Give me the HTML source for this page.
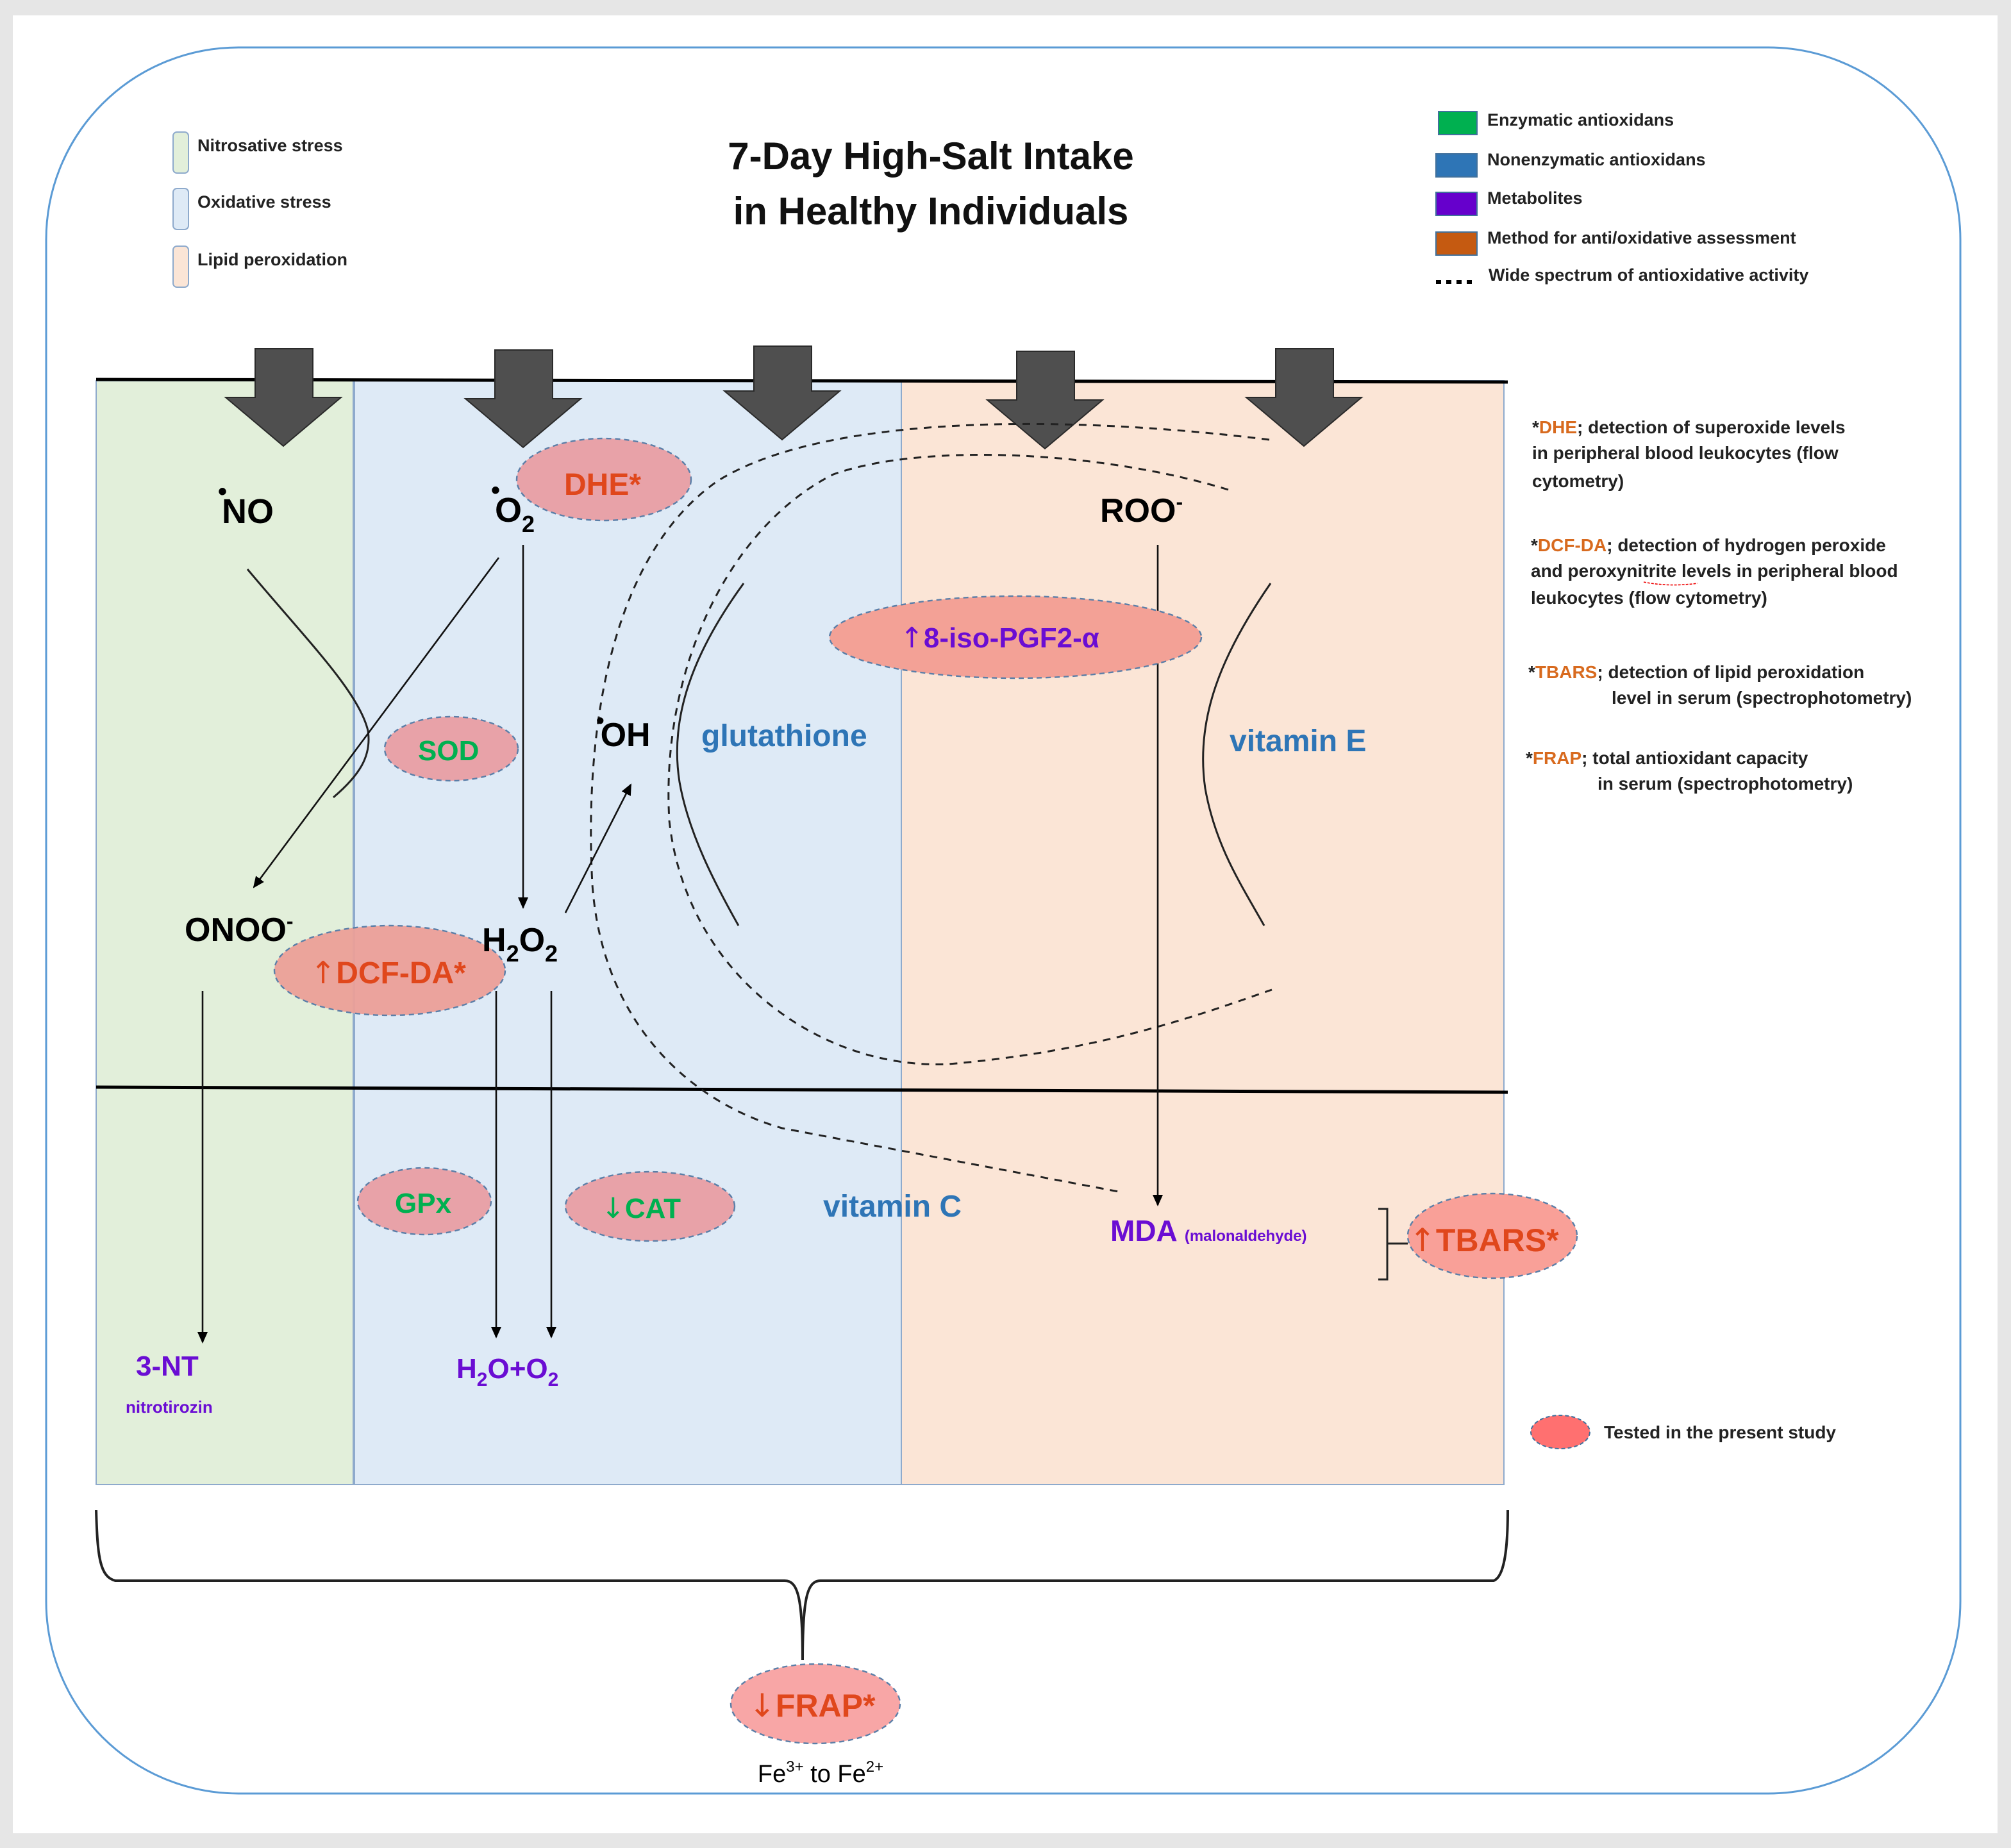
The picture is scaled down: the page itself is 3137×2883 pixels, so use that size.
<!DOCTYPE html>
<html><head><meta charset="utf-8"><style>html,body{margin:0;padding:0;background:#e6e6e6}svg{display:block}.ar{font-family:"DejaVu Sans",sans-serif;font-weight:normal}</style></head>
<body>
<svg width="3137" height="2883" viewBox="0 0 1568.5 1441.5" xmlns="http://www.w3.org/2000/svg" font-family="'Liberation Sans', sans-serif">
<defs>
<marker id="ah" markerWidth="10" markerHeight="10" refX="8" refY="5" orient="auto" markerUnits="userSpaceOnUse"><path d="M0,1 L9,5 L0,9 z" fill="#000"/></marker>
</defs>
<rect x="0" y="0" width="1568.5" height="1441.5" fill="#e6e6e6"/>
<rect x="10" y="12" width="1548" height="1418" fill="#fff"/>
<rect x="36" y="37" width="1493" height="1362" rx="150" ry="150" fill="#fff" stroke="#5b9bd5" stroke-width="1.5"/>

<rect x="75" y="297" width="201" height="861" fill="#e2efda" stroke="#8eaacc" stroke-width="1"/>
<rect x="276" y="297" width="427" height="861" fill="#deeaf6" stroke="#8eaacc" stroke-width="1"/>
<rect x="703" y="297" width="470" height="861" fill="#fbe5d6" stroke="#8eaacc" stroke-width="1"/>
<line x1="276" y1="297" x2="276" y2="1158" stroke="#8eaacc" stroke-width="2"/>
<line x1="75" y1="296" x2="1176" y2="298" stroke="#000" stroke-width="2.5"/>
<line x1="75" y1="848" x2="1176" y2="852" stroke="#000" stroke-width="2.5"/>

<g fill="#4f4f4f" stroke="#2a2a2a" stroke-width="1">
<path d="M199,272 h45 v38 h22 l-45,38 l-45,-38 h23 z"/>
<path d="M386,273 h45 v38 h22 l-45,38 l-45,-38 h23 z"/>
<path d="M588,270 h45 v35 h22 l-45,38 l-45,-38 h23 z"/>
<path d="M793,274 h45 v38 h22 l-45,38 l-45,-38 h23 z"/>
<path d="M995,272 h45 v38 h22 l-45,38 l-45,-38 h23 z"/>
</g>

<text x="726" y="132" text-anchor="middle" font-size="30" font-weight="bold" fill="#111">7-Day High-Salt Intake</text>
<text x="726" y="175" text-anchor="middle" font-size="30" font-weight="bold" fill="#111">in Healthy Individuals</text>

<g font-size="13.5" font-weight="bold" fill="#222">
<rect x="135" y="103" width="12" height="32" rx="3" fill="#e2efda" stroke="#8eaacc"/>
<text x="154" y="118">Nitrosative stress</text>
<rect x="135" y="147" width="12" height="32" rx="3" fill="#deeaf6" stroke="#8eaacc"/>
<text x="154" y="162">Oxidative stress</text>
<rect x="135" y="192" width="12" height="32" rx="3" fill="#fbe5d6" stroke="#8eaacc"/>
<text x="154" y="207">Lipid peroxidation</text>
</g>

<g font-size="13.5" font-weight="bold" fill="#222">
<rect x="1122" y="87" width="30" height="18" fill="#00b050" stroke="#41719c"/>
<text x="1160" y="98">Enzymatic antioxidans</text>
<rect x="1120" y="120" width="32" height="18" fill="#2e75b6" stroke="#41719c"/>
<text x="1160" y="129">Nonenzymatic antioxidans</text>
<rect x="1120" y="150" width="32" height="18" fill="#6600cc" stroke="#41719c"/>
<text x="1160" y="159">Metabolites</text>
<rect x="1120" y="181" width="32" height="18" fill="#c55a11" stroke="#41719c"/>
<text x="1160" y="190">Method for anti/oxidative assessment</text>
<line x1="1120" y1="220" x2="1152" y2="220" stroke="#000" stroke-width="3" stroke-dasharray="4,4"/>
<text x="1161" y="219">Wide spectrum of antioxidative activity</text>
</g>

<g font-size="14" font-weight="bold" fill="#222">
<text x="1195" y="338">*<tspan fill="#d86a1e">DHE</tspan>; detection of superoxide levels</text>
<text x="1195" y="358">in peripheral blood leukocytes (flow</text>
<text x="1195" y="380">cytometry)</text>
<text x="1194" y="430">*<tspan fill="#d86a1e">DCF-DA</tspan>; detection of hydrogen peroxide</text>
<text x="1194" y="450">and peroxynitrite levels in peripheral blood</text>
<text x="1194" y="471">leukocytes  (flow cytometry)</text>
<text x="1192" y="529">*<tspan fill="#d86a1e">TBARS</tspan>; detection of lipid peroxidation</text>
<text x="1257" y="549">level in serum (spectrophotometry)</text>
<text x="1190" y="596">*<tspan fill="#d86a1e">FRAP</tspan>; total antioxidant capacity</text>
<text x="1246" y="616">in serum (spectrophotometry)</text>
<text x="1251" y="1122">Tested in the present study</text>
</g>
<path d="M1282,454 q20,4 42,1" stroke="#e00" stroke-width="0.8" fill="none" stroke-dasharray="2,1"/>
<ellipse cx="1217" cy="1117" rx="23" ry="13" fill="#ff7070" stroke="#41719c" stroke-dasharray="3,2"/>

<g fill="none" stroke="#222" stroke-width="1.5" stroke-dasharray="6,5">
<path d="M990,343 C820,322 640,325 560,375 C480,430 455,560 462,690 C470,800 540,860 610,880 L875,930"/>
<path d="M958,382 C860,352 720,345 650,370 C570,410 515,520 522,640 C535,760 640,835 740,830 C860,820 940,790 992,772"/>
</g>
<g fill="none" stroke="#222" stroke-width="1.5">
<path d="M580,455 C540,510 522,560 530,610 C537,650 558,690 576,722"/>
<path d="M991,455 C953,510 932,560 940,615 C948,660 968,690 986,722"/>
<path d="M193,444 C240,500 280,540 287,570 C290,590 280,605 260,622"/>
</g>

<g stroke="#111" stroke-width="1.3" fill="none" marker-end="url(#ah)">
<line x1="389" y1="435" x2="198" y2="692"/>
<line x1="408" y1="425" x2="408" y2="708"/>
<line x1="441" y1="712" x2="492" y2="612"/>
<line x1="158" y1="773" x2="158" y2="1047"/>
<line x1="387" y1="773" x2="387" y2="1043"/>
<line x1="430" y1="773" x2="430" y2="1043"/>
<line x1="903" y1="425" x2="903" y2="940"/>
</g>

<g stroke="#5b7fa8" stroke-width="1.2" stroke-dasharray="4,3">
<ellipse cx="471" cy="374" rx="68" ry="32" fill="#e8a2a8"/>
<ellipse cx="352" cy="584" rx="52" ry="25" fill="#e8a2a8"/>
<ellipse cx="304" cy="757" rx="90" ry="35" fill="#eb9f98" fill-opacity="0.95"/>
<ellipse cx="792" cy="497" rx="145" ry="32" fill="#f3a196"/>
<ellipse cx="331" cy="937" rx="52" ry="26" fill="#e8a2a8"/>
<ellipse cx="507" cy="941" rx="66" ry="27" fill="#e8a2a8"/>
<ellipse cx="1164" cy="964" rx="66" ry="33" fill="#f9a098"/>
<ellipse cx="636" cy="1329" rx="66" ry="31" fill="#f8a6a6"/>
</g>

<g font-weight="bold">
<text x="440" y="386" font-size="24" fill="#e0471c">DHE*</text>
<text x="326" y="593" font-size="22" fill="#00b050">SOD</text>
<text x="242" y="767" font-size="24" fill="#e0471c"><tspan class="ar">↑</tspan>DCF-DA*</text>
<text x="702" y="505" font-size="22" fill="#6a0dd3"><tspan class="ar">↑</tspan>8-iso-PGF2-α</text>
<text x="308" y="946" font-size="22" fill="#00b050">GPx</text>
<text x="469" y="950" font-size="22" fill="#00b050"><tspan class="ar">↓</tspan>CAT</text>
<text x="1099" y="976" font-size="25" fill="#e0471c"><tspan class="ar">↑</tspan>TBARS*</text>
<text x="584" y="1339" font-size="25" fill="#e0471c"><tspan class="ar">↓</tspan>FRAP*</text>

<text x="170" y="408" font-size="27" fill="#000"><tspan dy="-18" font-size="20">•</tspan><tspan dy="18" dx="-4">NO</tspan></text>
<text x="383" y="407" font-size="27" fill="#000"><tspan dy="-18" font-size="20">•</tspan><tspan dy="18" dx="-4">O</tspan><tspan font-size="18" dy="8">2</tspan></text>
<text x="465" y="582" font-size="26" fill="#000"><tspan dy="-14" font-size="18">•</tspan><tspan dy="14" dx="-3">OH</tspan></text>
<text x="858" y="407" font-size="26" fill="#000">ROO<tspan font-size="16" dy="-10">-</tspan></text>
<text x="144" y="734" font-size="26" fill="#000">ONOO<tspan font-size="16" dy="-10">-</tspan></text>
<text x="376" y="742" font-size="26" fill="#000">H<tspan font-size="18" dy="8">2</tspan><tspan dy="-8">O</tspan><tspan font-size="18" dy="8">2</tspan></text>

<text x="547" y="582" font-size="24" fill="#2e75b6">glutathione</text>
<text x="959" y="586" font-size="24" fill="#2e75b6">vitamin E</text>
<text x="642" y="949" font-size="24" fill="#2e75b6">vitamin C</text>

<text x="866" y="968" font-size="23" fill="#6a0dd3">MDA <tspan font-size="12">(malonaldehyde)</tspan></text>
<text x="106" y="1073" font-size="22" fill="#6a0dd3">3-NT</text>
<text x="98" y="1102" font-size="13" fill="#6a0dd3">nitrotirozin</text>
<text x="356" y="1075" font-size="22" fill="#6a0dd3">H<tspan font-size="15" dy="6">2</tspan><tspan dy="-6">O+O</tspan><tspan font-size="15" dy="6">2</tspan></text>
</g>

<path d="M1075,943 h7 v55 h-7 M1082,970 h16" stroke="#222" stroke-width="1.5" fill="none"/>

<path d="M75,1178 C76,1215 78,1230 90,1233 L612,1233 C622,1233 626,1245 626,1295 C626,1245 630,1233 640,1233 L1165,1233 C1173,1230 1176,1210 1176,1178" stroke="#222" stroke-width="2" fill="none"/>

<text x="640" y="1390" text-anchor="middle" font-size="19" fill="#000">Fe<tspan font-size="12" dy="-8">3+</tspan><tspan dy="8"> to Fe</tspan><tspan font-size="12" dy="-8">2+</tspan></text>
</svg>
</body></html>
